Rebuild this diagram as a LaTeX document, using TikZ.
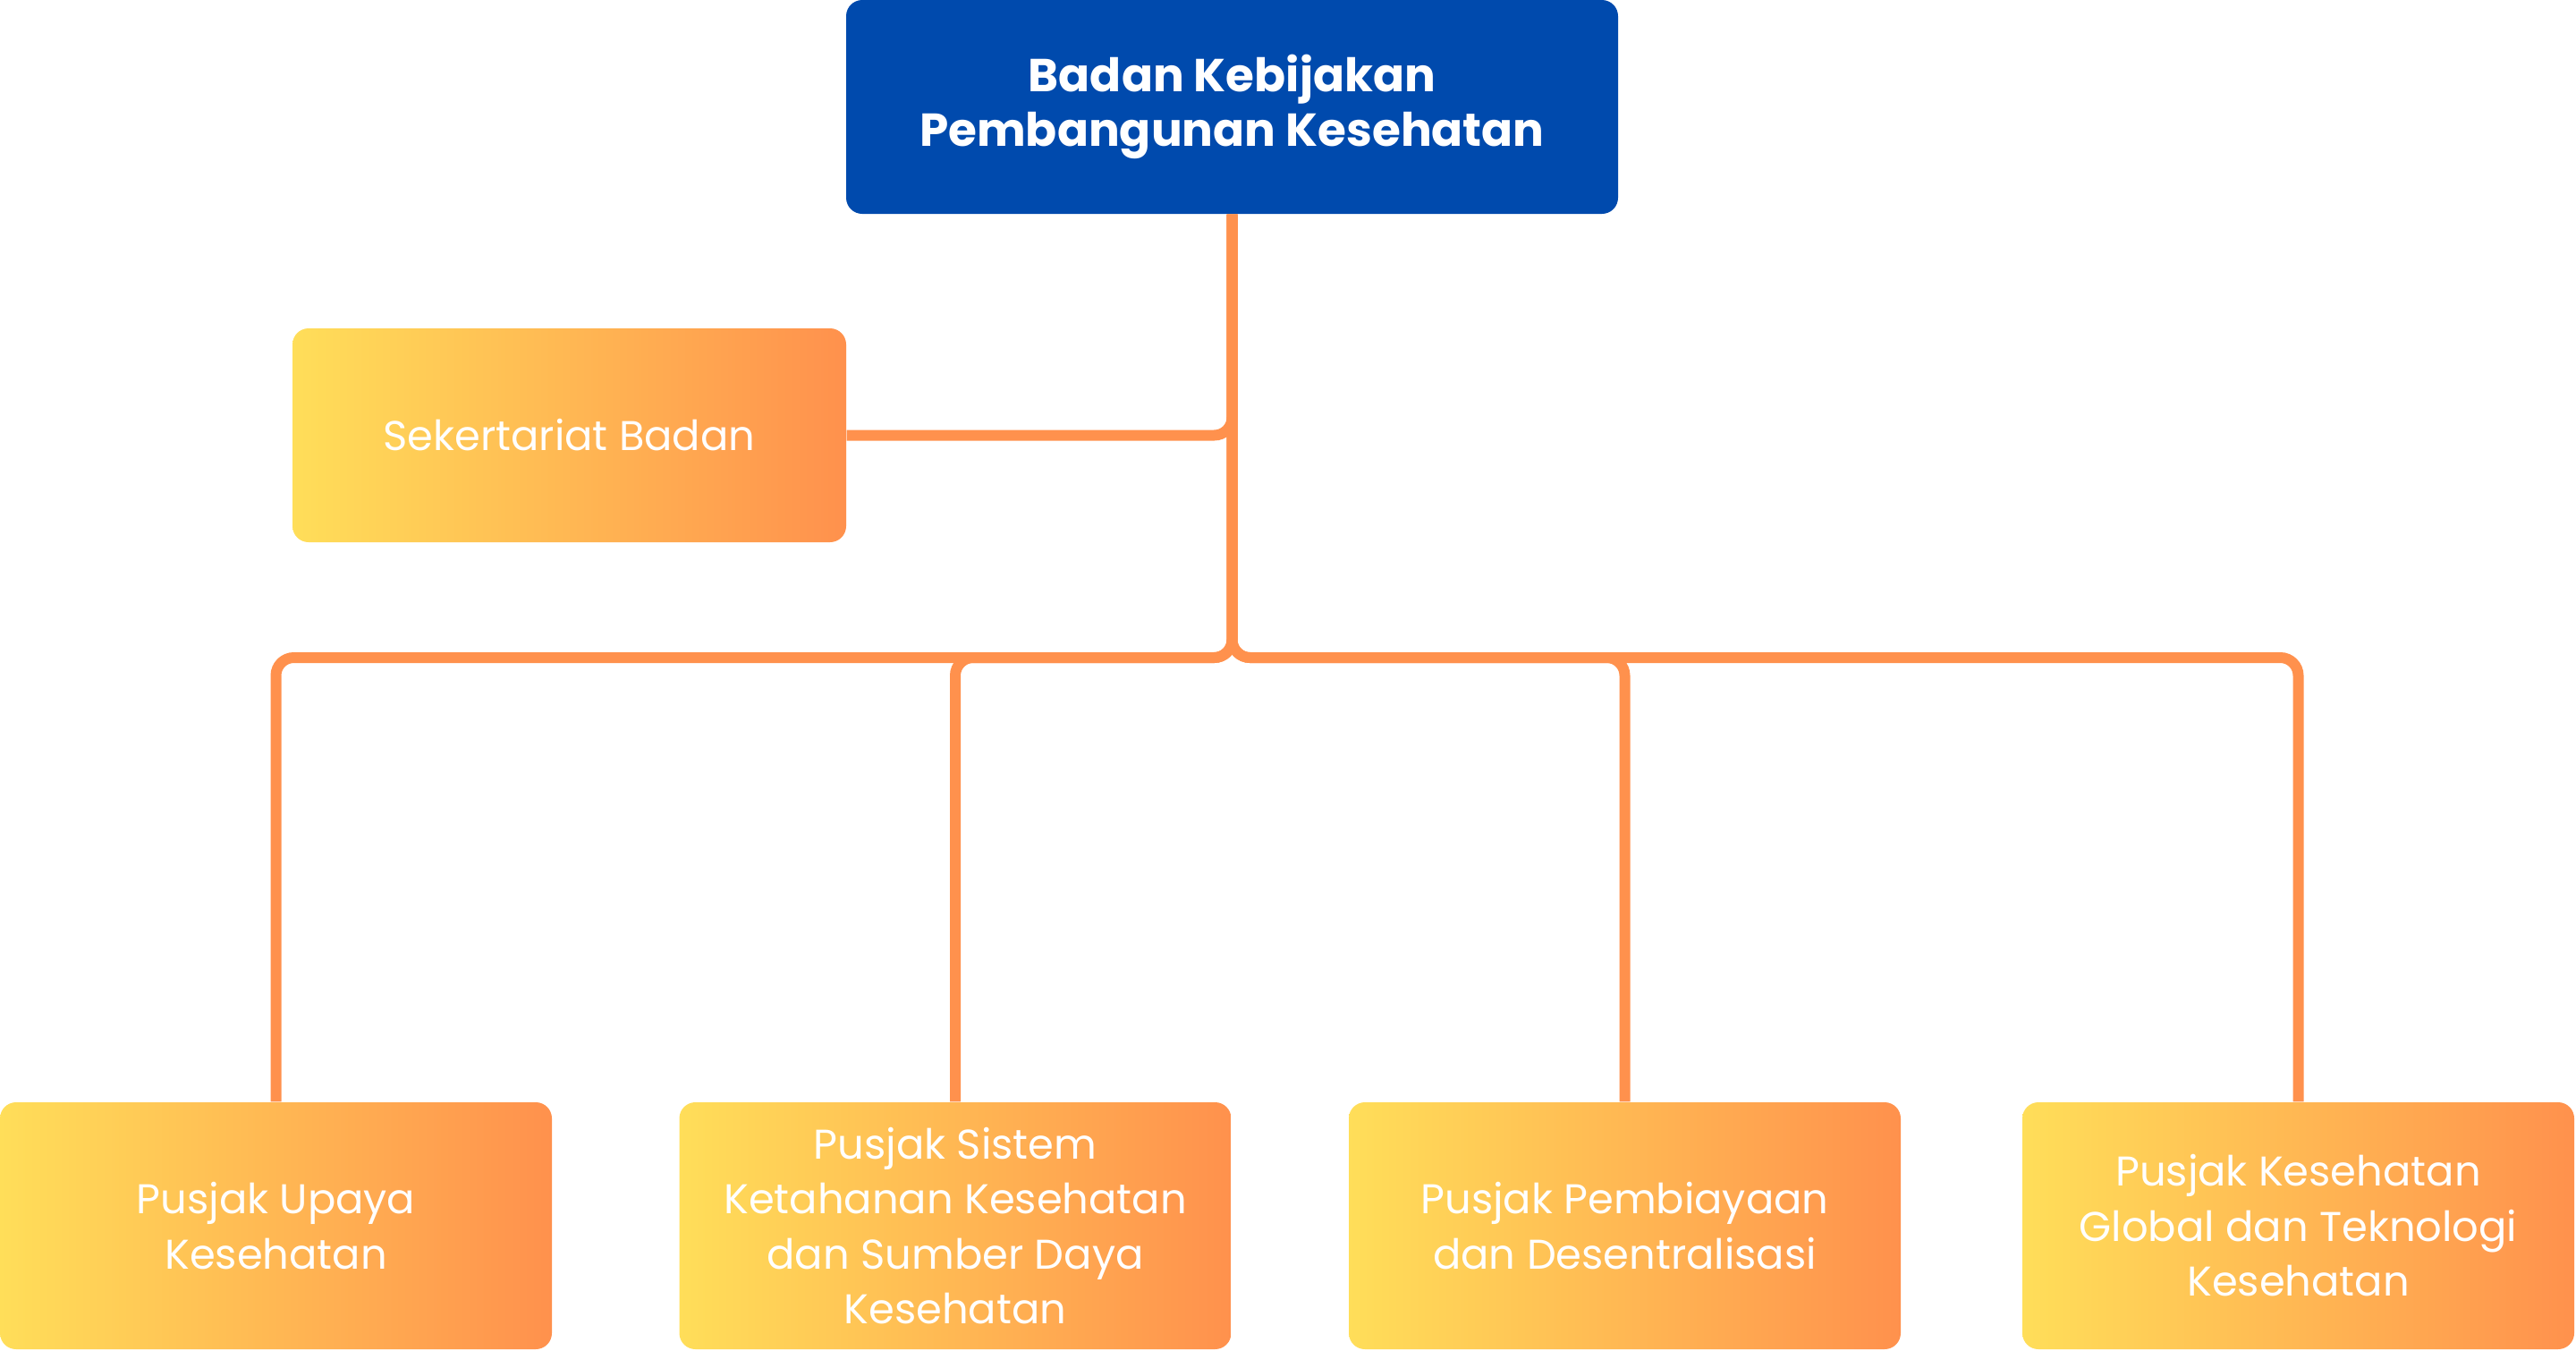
\documentclass[tikz,border=0pt]{standalone}
\usepackage{fontspec}
\setmainfont{Poppins}
\definecolor{bkpkblue}{HTML}{004AAD}
\definecolor{boxyellow}{HTML}{FFDE59}
\definecolor{boxorange}{HTML}{FF914D}
\tikzset{
  unit/.style={rounded corners=0.18cm, left color=boxyellow, right color=boxorange,
    minimum width=6.17cm, minimum height=2.76cm, inner sep=0pt, text=white,
    align=center, font=\fontsize{13.2}{17.5}\selectfont},
  link/.style={draw=boxorange, line width=0.12cm, rounded corners=0.2cm},
}
\begin{document}
\begin{tikzpicture}
  \useasboundingbox (0,0) rectangle (28.8,-15.09);
  % Head of the agency
  \node[fill=bkpkblue, rounded corners=0.18cm, minimum width=8.63cm, minimum height=2.39cm,
    inner sep=0pt, text=white, align=center, font=\bfseries\fontsize{14.7}{17.2}\selectfont]
    (badan) at (13.775,-1.195) {Badan Kebijakan\\Pembangunan Kesehatan};
  % Secretariat
  \node[unit, minimum width=6.19cm, minimum height=2.39cm] (sek) at (6.365,-4.865) {Sekertariat Badan};
  % Centres on the bottom row
  \foreach \i/\x/\txt in {1/3.085/{Pusjak Upaya\\Kesehatan},
      2/10.68/{Pusjak Sistem\\Ketahanan Kesehatan\\dan Sumber Daya\\Kesehatan},
      3/18.165/{Pusjak Pembiayaan\\dan Desentralisasi},
      4/25.695/{Pusjak Kesehatan\\Global dan Teknologi\\Kesehatan}} {
    \node[unit] (pusjak\i) at (\x,-13.7) {\txt};
  }
  % Connections
  \draw[link] (sek.east) -| (badan.south);
  \coordinate (bus) at (badan.south |- 0,-7.35);
  \foreach \i in {1,...,4} {
    \draw[link] (badan.south) -- (bus) -| (pusjak\i.north);
  }
\end{tikzpicture}
\end{document}
